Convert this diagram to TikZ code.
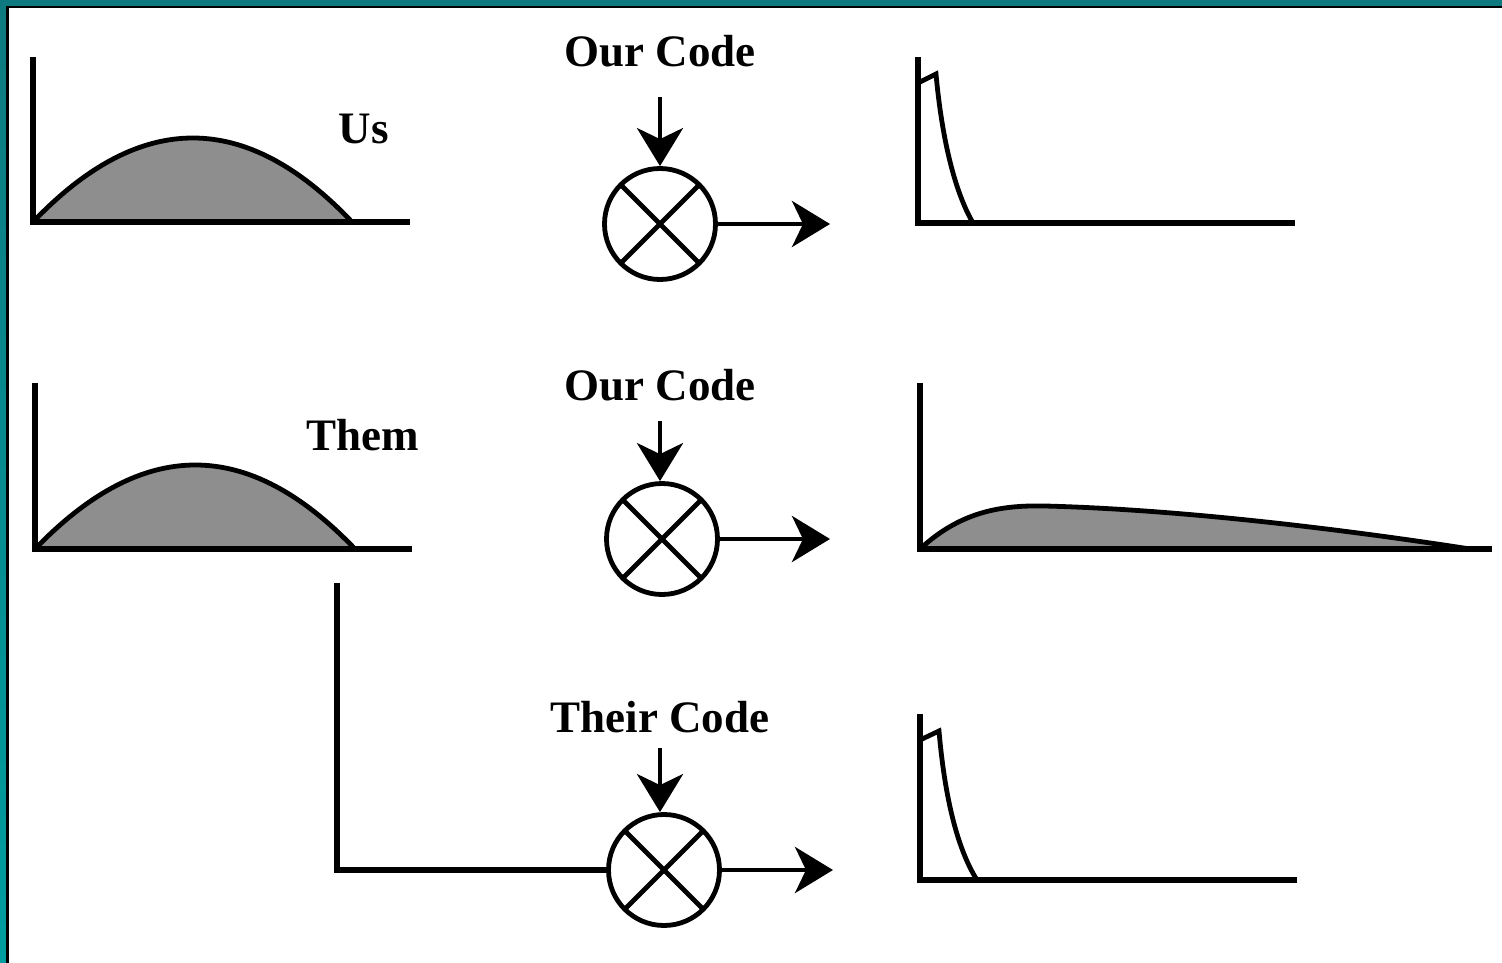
\documentclass[tikz,border=0pt]{standalone}
\usepackage{fontspec}
\setmainfont{Liberation Serif}
\usetikzlibrary{arrows.meta}
\definecolor{tealtop}{RGB}{14,122,128}
\definecolor{tealbot}{RGB}{0,158,160}
\definecolor{humpgray}{RGB}{142,142,142}
\tikzset{
  axis/.style={line width=5.5pt, line cap=butt},
  curve/.style={line width=4.8pt, line join=miter},
  lbl/.style={font=\fontsize{45}{49}\selectfont\bfseries, inner sep=0pt, anchor=base},
  sig/.style={line width=4.8pt, -{Stealth[length=38pt,width=46pt,inset=11pt]}},
  mult/.style={circle, draw, line width=4.8pt, minimum size=111pt, inner sep=0pt,
    path picture={
      \draw[line width=4.8pt] (path picture bounding box.north west) -- (path picture bounding box.south east);
      \draw[line width=4.8pt] (path picture bounding box.north east) -- (path picture bounding box.south west);}}
}
\begin{document}
\begin{tikzpicture}[x=1pt,y=-1pt]
\useasboundingbox (0,0) rectangle (1502,963);
% frame
\shade[top color=tealtop, bottom color=tealbot] (0,0) rectangle (1502,963);
\fill[white] (8,8) rectangle (1502,963);
\draw[line width=2.5pt] (7.25,963) -- (7.25,7.25) -- (1502,7.25);

% input panel Us
\coordinate (u0) at (33,222);
\coordinate (uy) at (33,57);
\coordinate (ux) at (410,222);
\coordinate (ue) at (352,222);
\fill[humpgray] (u0) .. controls (140,110) and (246,110) .. (ue) -- cycle;
\draw[curve] (u0) .. controls (140,110) and (246,110) .. (ue);
\draw[axis] (uy) -- (u0) -- (ux);
\node[lbl] (us) at (364,144) {Us};

% input panel Them
\coordinate (h0) at (35,549);
\coordinate (hy) at (35,383);
\coordinate (hx) at (412,549);
\coordinate (he) at (355,549);
\fill[humpgray] (h0) .. controls (143,437) and (248,437) .. (he) -- cycle;
\draw[curve] (h0) .. controls (143,437) and (248,437) .. (he);
\draw[axis] (hy) -- (h0) -- (hx);
\node[lbl] (them) at (363,450) {Them};

% multipliers
\node[mult] (m1) at (660,224) {};
\node[mult] (m2) at (662,539) {};
\node[mult] (m3) at (664,870) {};

\node[lbl] (c1) at (660,67) {Our Code};
\node[lbl] (c2) at (660,400) {Our Code};
\node[lbl] (c3) at (660,732) {Their Code};

\coordinate (a1) at (660,97);
\coordinate (a2) at (660,421);
\coordinate (a3) at (660,748);
\draw[sig] (a1) -- (a1 |- m1.north);
\draw[sig] (a2) -- (a2 |- m2.north);
\draw[sig] (a3) -- (a3 |- m3.north);

\coordinate (o1) at (830,224);
\coordinate (o2) at (830,539);
\coordinate (o3) at (833,870);
\draw[sig] (m1.east) -- (o1);
\draw[sig] (m2.east) -- (o2);
\draw[sig] (m3.east) -- (o3);

% feed from Them to third multiplier
\coordinate (t0) at (337,583);
\draw[axis] (t0) |- (m3.west);

% output panel 1
\coordinate (p0) at (918,223);
\coordinate (py) at (918,57);
\coordinate (px) at (1295,223);
\draw[curve] (918,83) -- (936,74) .. controls (942,140) and (955,192) .. (973,223);
\draw[axis] (py) -- (p0) -- (px);

% output panel 2
\coordinate (q0) at (920,549);
\coordinate (qy) at (920,383);
\coordinate (qx) at (1492,549);
\fill[humpgray] (q0) .. controls (960,512) and (1000,505) .. (1045,506) .. controls (1200,510) and (1380,535) .. (1470,549) -- cycle;
\draw[curve] (q0) .. controls (960,512) and (1000,505) .. (1045,506) .. controls (1200,510) and (1380,535) .. (1470,549);
\draw[axis] (qy) -- (q0) -- (qx);

% output panel 3
\coordinate (r0) at (920,880);
\coordinate (ry) at (920,714);
\coordinate (rx) at (1297,880);
\draw[curve] (920,740) -- (939,731) .. controls (945,800) and (958,850) .. (977,880);
\draw[axis] (ry) -- (r0) -- (rx);
\end{tikzpicture}
\end{document}
